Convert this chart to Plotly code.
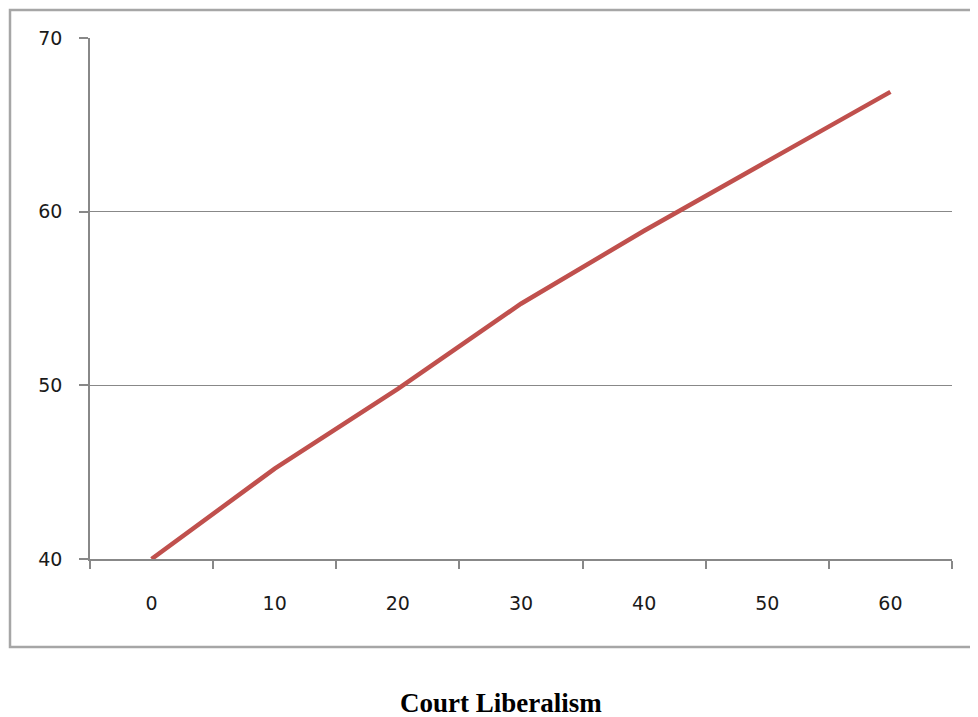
import plotly.graph_objects as go

categories = ["0", "10", "20", "30", "40", "50", "60"]
values = [40.0, 45.2, 49.8, 54.7, 58.9, 62.9, 66.9]
y_ticks = [40, 50, 60, 70]
title_text = "Court Liberalism"

# page body has an 8px default margin; work in screen pixels and offset
OFF = 8
W, H = 978 - OFF, 717 - OFF
L, R, T, B = 90 - OFF, 978 - 952, 38 - OFF, 717 - 559
pw, ph = W - L - R, H - T - B

def px_x(p):
    return (p - OFF - L) / pw

def px_y(p):
    return (H - B - (p - OFF)) / ph

fig = go.Figure()
fig.add_trace(go.Scatter(
    x=categories, y=values, mode="lines",
    line=dict(color="#C0504D", width=4.5),
    showlegend=False, hoverinfo="skip",
))

axis_font = dict(family="DejaVu Sans", size=19, color="#1a1a1a")
fig.update_layout(
    width=W, height=H,
    margin=dict(l=L, r=R, t=T, b=B, pad=0),
    paper_bgcolor="white", plot_bgcolor="white",
    xaxis=dict(
        type="category", range=[-0.5, 6.5],
        showgrid=False, showline=True, linecolor="#888888", linewidth=1.5,
        ticks="outside", ticklen=8, tickcolor="#888888", tickwidth=1.5,
        tickson="boundaries", tickfont=axis_font, ticklabelstandoff=26,
        zeroline=False, fixedrange=True,
    ),
    yaxis=dict(
        range=[40, 70], tickvals=y_ticks, ticktext=[str(v) for v in y_ticks],
        showgrid=True, gridcolor="#888888", gridwidth=1.2,
        showline=True, linecolor="#888888", linewidth=1.5,
        ticks="outside", ticklen=9, tickcolor="#888888", tickwidth=1.5,
        tickfont=axis_font, ticklabelstandoff=13,
        zeroline=False, fixedrange=True,
    ),
    shapes=[dict(
        type="rect", xref="paper", yref="paper",
        x0=px_x(10), x1=px_x(990), y0=px_y(647), y1=px_y(10),
        line=dict(color="#A6A6A6", width=2.5), fillcolor="rgba(0,0,0,0)",
        layer="below",
    )],
    annotations=[dict(
        text="<b>" + title_text + "</b>", xref="paper", yref="paper",
        x=px_x(501), y=px_y(703), xanchor="center", yanchor="middle",
        showarrow=False,
        font=dict(family="Liberation Serif", size=27, color="black"),
    )],
)

fig.write_html("out.html")
